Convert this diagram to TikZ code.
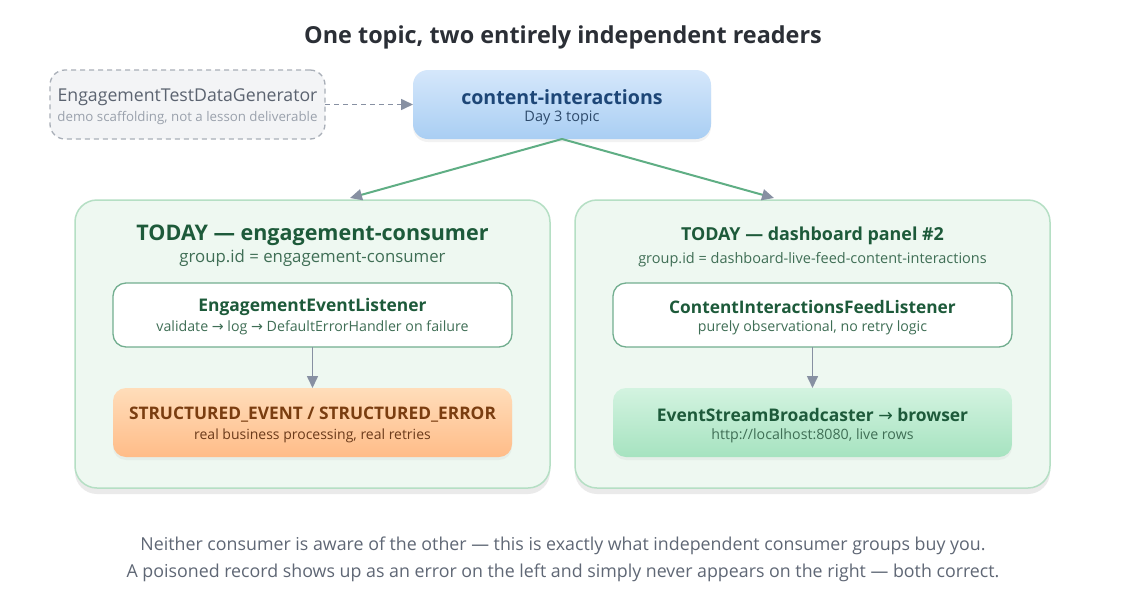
\documentclass[tikz,border=0pt]{standalone}
\usepackage{fontspec}
\setmainfont{Open Sans}
\newfontfamily\symf{DejaVu Sans}
\usetikzlibrary{arrows.meta,shadows}
\newcommand{\fsz}[1]{\fontsize{#1}{#1}\selectfont}
\newcommand{\rarr}{{\symf\mdseries →}}
\definecolor{titlegray}{HTML}{2B2F36}
\definecolor{gengray}{HTML}{5B6370}
\definecolor{gensub}{HTML}{9AA1AC}
\definecolor{genfill}{HTML}{F3F4F6}
\definecolor{genborder}{HTML}{A9AFB8}
\definecolor{arrowgray}{HTML}{8790A2}
\definecolor{topictop}{HTML}{D5E7FB}
\definecolor{topicbot}{HTML}{A9CEF3}
\definecolor{topictext}{HTML}{1D4677}
\definecolor{topicsub}{HTML}{2D4A6B}
\definecolor{flowgreen}{HTML}{5FAE84}
\definecolor{panelfill}{HTML}{EEF8F1}
\definecolor{panelborder}{HTML}{B5DFC4}
\definecolor{darkgreen}{HTML}{1D5A3A}
\definecolor{midgreen}{HTML}{3F6E55}
\definecolor{listborder}{HTML}{72AE8F}
\definecolor{orangetop}{HTML}{FFDDBA}
\definecolor{orangebot}{HTML}{FFBC88}
\definecolor{orangetext}{HTML}{7A3D10}
\definecolor{orangesub}{HTML}{6B3A1A}
\definecolor{greentop}{HTML}{D3F3E0}
\definecolor{greenbot}{HTML}{A6E3C0}
\definecolor{foottext}{HTML}{5F6775}
\tikzset{
  box/.style={rectangle, inner sep=0pt, outer sep=0pt},
  panelbox/.style={box, rounded corners=22pt, fill=panelfill, draw=panelborder, line width=1.5pt,
    minimum width=475pt, minimum height=288pt,
    drop shadow={opacity=0.16, shadow xshift=0pt, shadow yshift=-6pt}},
  listbox/.style={box, rounded corners=13pt, fill=white, draw=listborder, line width=1.3pt,
    minimum width=399pt, minimum height=64pt},
  resultbox/.style={box, rounded corners=13pt, minimum width=399pt, minimum height=69pt,
    drop shadow={opacity=0.08, shadow xshift=0pt, shadow yshift=-3pt}},
  txt/.style={inner sep=0pt, outer sep=0pt, anchor=center},
  flow/.style={draw=flowgreen, line width=2pt, -{Triangle[length=12pt,width=11pt,color=arrowgray]}},
  inner/.style={draw=arrowgray, line width=1.6pt, -{Triangle[length=12pt,width=11pt]}},
  dashflow/.style={draw=arrowgray, line width=1.6pt, dash pattern=on 5pt off 4pt, -{Triangle[length=12pt,width=11pt]}},
}
\begin{document}
\begin{tikzpicture}[x=1pt,y=-1pt]
\useasboundingbox[fill=white] (0,0) rectangle (1125,600);

% title
\node[txt, text=titlegray] (title) at (563,37) {\fsz{23.4}\bfseries One topic, two entirely independent readers};

% generator
\node[box, rounded corners=15pt, fill=genfill, draw=genborder, line width=1.3pt, dash pattern=on 5pt off 4pt,
  minimum width=275pt, minimum height=69pt] (gen) at (187.5,104.5) {};
\node[txt, text=gengray] (gent) at (187.5,97) {\fsz{17.7}EngagementTestDataGenerator};
\node[txt, text=gensub] (gens) at (187.5,118) {\fsz{13.3}demo scaffolding, not a lesson deliverable};

% topic
\node[box, rounded corners=15pt, top color=topictop, bottom color=topicbot,
  minimum width=298pt, minimum height=69pt,
  drop shadow={opacity=0.1, shadow xshift=0pt, shadow yshift=-3pt}] (topic) at (562,104.5) {};
\node[txt, text=topictext] (topict) at (562,97.5) {\fsz{19.6}\bfseries content-interactions};
\node[txt, text=topicsub] (topics) at (562,117.5) {\fsz{14.5}Day 3 topic};

\draw[dashflow] (gen.east) -- (topic.west);

% panels
\node[panelbox] (lp) at (312.5,344) {};
\node[panelbox] (rp) at (812.5,344) {};

\coordinate (la) at (350,198);
\coordinate (ra) at (774,198);
\draw[flow] (topic.south) -- (la);
\draw[flow] (topic.south) -- (ra);

% left panel content
\node[txt, text=darkgreen] (lpt) at (312.5,235) {\fsz{21.5}\bfseries TODAY — engagement-consumer};
\node[txt, text=midgreen] (lps) at (312.5,258) {\fsz{16.8}group.id = engagement-consumer};
\node[listbox] (ll) at (312.5,315) {};
\node[txt, text=darkgreen] (llt) at (312.5,307) {\fsz{17.4}\bfseries EngagementEventListener};
\node[txt, text=midgreen] (lls) at (312.5,327.5) {\fsz{14.2}validate \rarr{} log \rarr{} DefaultErrorHandler on failure};
\node[resultbox, top color=orangetop, bottom color=orangebot] (lr) at (312.5,422.5) {};
\node[txt, text=orangetext] (lrt) at (312.5,415) {\fsz{17.3}\bfseries STRUCTURED\_EVENT / STRUCTURED\_ERROR};
\node[txt, text=orangesub] (lrs) at (312.5,435.5) {\fsz{14}real business processing, real retries};
\draw[inner] (ll.south) -- (lr.north);

% right panel content
\node[txt, text=darkgreen] (rpt) at (812.5,236) {\fsz{17.9}\bfseries TODAY — dashboard panel \#2};
\node[txt, text=midgreen] (rps) at (812.5,259.5) {\fsz{14.5}group.id = dashboard-live-feed-content-interactions};
\node[listbox] (rl) at (812.5,315) {};
\node[txt, text=darkgreen] (rlt) at (812.5,307) {\fsz{17.3}\bfseries ContentInteractionsFeedListener};
\node[txt, text=midgreen] (rls) at (812.5,327.5) {\fsz{14.2}purely observational, no retry logic};
\node[resultbox, top color=greentop, bottom color=greenbot] (rr) at (812.5,422.5) {};
\node[txt, text=darkgreen] (rrt) at (812.5,415) {\fsz{17.4}\bfseries EventStreamBroadcaster \rarr{} browser};
\node[txt, text=midgreen] (rrs) at (812.5,435.5) {\fsz{14.2}http://localhost:8080, live rows};
\draw[inner] (rl.south) -- (rr.north);

% footer
\node[txt, text=foottext] (f1) at (563,546) {\fsz{17.8}Neither consumer is aware of the other — this is exactly what independent consumer groups buy you.};
\node[txt, text=foottext] (f2) at (563,573) {\fsz{17.8}A poisoned record shows up as an error on the left and simply never appears on the right — both correct.};
\end{tikzpicture}
\end{document}
